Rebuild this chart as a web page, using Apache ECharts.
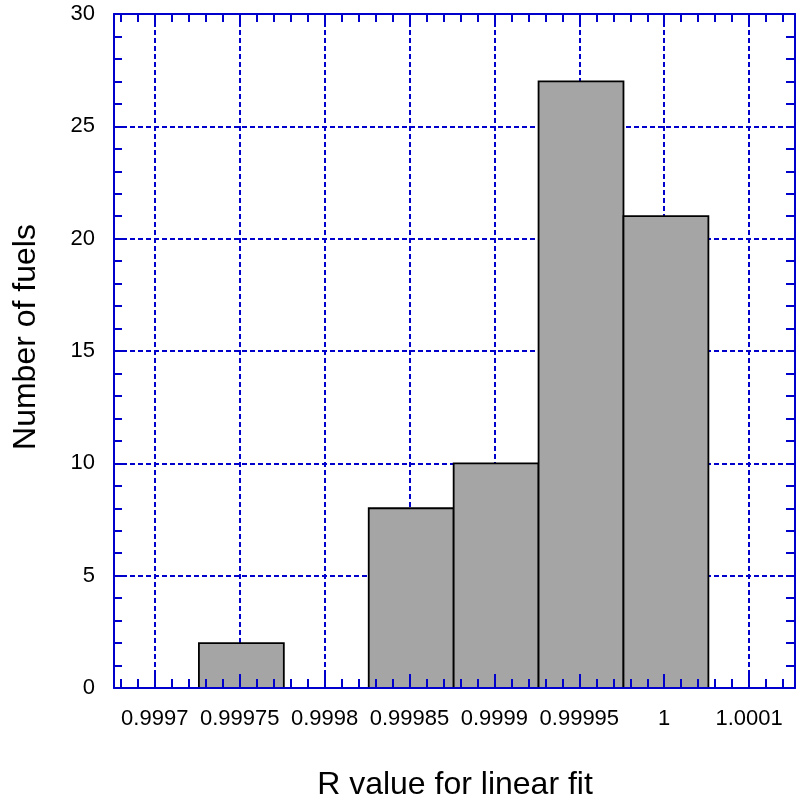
<!DOCTYPE html>
<html>
<head>
<meta charset="utf-8">
<title>R value histogram</title>
<script src="https://cdn.jsdelivr.net/npm/echarts@6/dist/echarts.min.js"></script>
<style>
  html, body { margin: 0; padding: 0; background: #fff; }
  #chart { width: 799px; height: 803px; }
</style>
</head>
<body>
<div id="chart"></div>
<script>
// Histogram bins: lower edge, upper edge, number of fuels
const binLower = [0.999726, 0.999776, 0.999826, 0.999876, 0.999926, 0.999976];
const binUpper = [0.999776, 0.999826, 0.999876, 0.999926, 0.999976, 1.000026];
const counts   = [2, 0, 8, 10, 27, 21];

// Major tick positions on the R axis and the text printed under them
const majorTicks = [0.9997, 0.99975, 0.9998, 0.99985, 0.9999, 0.99995, 1.0, 1.00005];
const tickLabels = ['0.9997', '0.99975', '0.9998', '0.99985', '0.9999', '0.99995', '1', '1.0001'];

// Axis extents
const xMin = 0.999676, xMax = 1.000077;
const yMin = 0, yMax = 30, yStep = 5;

// Minor ticks every 1e-5 between the majors
const minorTicks = [];
for (let k = 99968; k <= 100007; k++) {
  const v = k / 100000;
  if (!majorTicks.some(m => Math.abs(m - v) < 1e-9)) minorTicks.push(v);
}
const allTicks = majorTicks.concat(minorTicks);

const BLUE = '#0000cc';
const FONT = 'Liberation Sans, Arial, sans-serif';
const gridRect = { left: 114, top: 14, right: 4, bottom: 115, containLabel: false };

const barData = binLower.map((lo, i) => [lo, binUpper[i], counts[i]]);

const chart = echarts.init(document.getElementById('chart'), null, { renderer: 'canvas' });

const hiddenY = (grid) => ({
  gridIndex: grid, type: 'value', min: yMin, max: yMax, interval: yStep, show: false
});

const dashed = { color: BLUE, width: 2, type: [5, 3] };

chart.setOption({
  animation: false,
  backgroundColor: '#ffffff',
  grid: [
    Object.assign({}, gridRect),
    Object.assign({}, gridRect),
    Object.assign({}, gridRect)
  ],
  xAxis: [
    // dashed grid lines behind the bars
    {
      gridIndex: 0, type: 'value', position: 'bottom', min: xMin, max: xMax, z: 0,
      axisLine: { show: false },
      axisTick: { show: false, customValues: majorTicks },
      axisLabel: { show: false, customValues: majorTicks },
      splitLine: { show: true, lineStyle: dashed }
    },
    // bottom spine, long major ticks and tick labels
    {
      gridIndex: 1, type: 'value', position: 'bottom', min: xMin, max: xMax, z: 10,
      axisLine: { show: true, onZero: false, lineStyle: { color: BLUE, width: 2 } },
      axisTick: { show: true, inside: true, length: 14, customValues: majorTicks,
                  lineStyle: { color: BLUE, width: 2 } },
      axisLabel: {
        show: true, customValues: majorTicks, margin: 20,
        color: '#000', fontSize: 22, fontFamily: FONT,
        formatter: (v) => {
          let best = 0;
          majorTicks.forEach((m, i) => { if (Math.abs(m - v) < Math.abs(majorTicks[best] - v)) best = i; });
          return tickLabels[best];
        }
      },
      splitLine: { show: false }
    },
    // top spine with all ticks
    {
      gridIndex: 1, type: 'value', position: 'top', min: xMin, max: xMax, z: 10,
      axisLine: { show: true, onZero: false, lineStyle: { color: BLUE, width: 2 } },
      axisTick: { show: true, inside: true, length: 8, customValues: allTicks,
                  lineStyle: { color: BLUE, width: 2 } },
      axisLabel: { show: false },
      splitLine: { show: false }
    },
    // bottom minor ticks
    {
      gridIndex: 2, type: 'value', position: 'bottom', min: xMin, max: xMax, z: 10,
      axisLine: { show: false },
      axisTick: { show: true, inside: true, length: 9, customValues: minorTicks,
                  lineStyle: { color: BLUE, width: 2 } },
      axisLabel: { show: false },
      splitLine: { show: false }
    }
  ],
  yAxis: [
    // dashed horizontal grid lines
    {
      gridIndex: 0, type: 'value', position: 'left', min: yMin, max: yMax, interval: yStep, z: 0,
      axisLine: { show: false }, axisTick: { show: false }, axisLabel: { show: false },
      splitLine: { show: true, lineStyle: dashed }
    },
    // left spine, ticks and labels
    {
      gridIndex: 1, type: 'value', position: 'left', min: yMin, max: yMax, interval: yStep, z: 10,
      axisLine: { show: true, onZero: false, lineStyle: { color: BLUE, width: 2 } },
      axisTick: { show: true, inside: true, length: 8, lineStyle: { color: BLUE, width: 2 } },
      minorTick: { show: true, splitNumber: 5, length: 8, lineStyle: { color: BLUE, width: 2 } },
      axisLabel: { show: true, margin: 19, color: '#000', fontSize: 22, fontFamily: FONT },
      splitLine: { show: false }
    },
    // right spine and ticks
    {
      gridIndex: 1, type: 'value', position: 'right', min: yMin, max: yMax, interval: yStep, z: 10,
      axisLine: { show: true, onZero: false, lineStyle: { color: BLUE, width: 2 } },
      axisTick: { show: true, inside: true, length: 9, lineStyle: { color: BLUE, width: 2 } },
      minorTick: { show: true, splitNumber: 5, length: 9, lineStyle: { color: BLUE, width: 2 } },
      axisLabel: { show: false },
      splitLine: { show: false }
    },
    hiddenY(2)
  ],
  series: [{
    type: 'custom',
    xAxisIndex: 0, yAxisIndex: 0, z: 5,
    data: barData,
    encode: { x: [0, 1], y: 2 },
    renderItem: (params, api) => {
      const n = api.value(2);
      if (!n) return null;
      const p0 = api.coord([api.value(0), 0]);
      const p1 = api.coord([api.value(1), n]);
      return {
        type: 'rect',
        shape: { x: p0[0], y: p1[1], width: p1[0] - p0[0], height: p0[1] - p1[1] },
        style: { fill: '#a5a5a5', stroke: '#000', lineWidth: 1.8 }
      };
    }
  }],
  graphic: [
    {
      type: 'text', x: 455, y: 785, z: 20,
      style: { text: 'R value for linear fit', font: '32px ' + FONT, fill: '#000',
               align: 'center', verticalAlign: 'middle' }
    },
    {
      type: 'text', x: 26, y: 337, rotation: Math.PI / 2, z: 20,
      style: { text: 'Number of fuels', font: '32px ' + FONT, fill: '#000',
               align: 'center', verticalAlign: 'middle' }
    }
  ]
});
</script>
</body>
</html>
